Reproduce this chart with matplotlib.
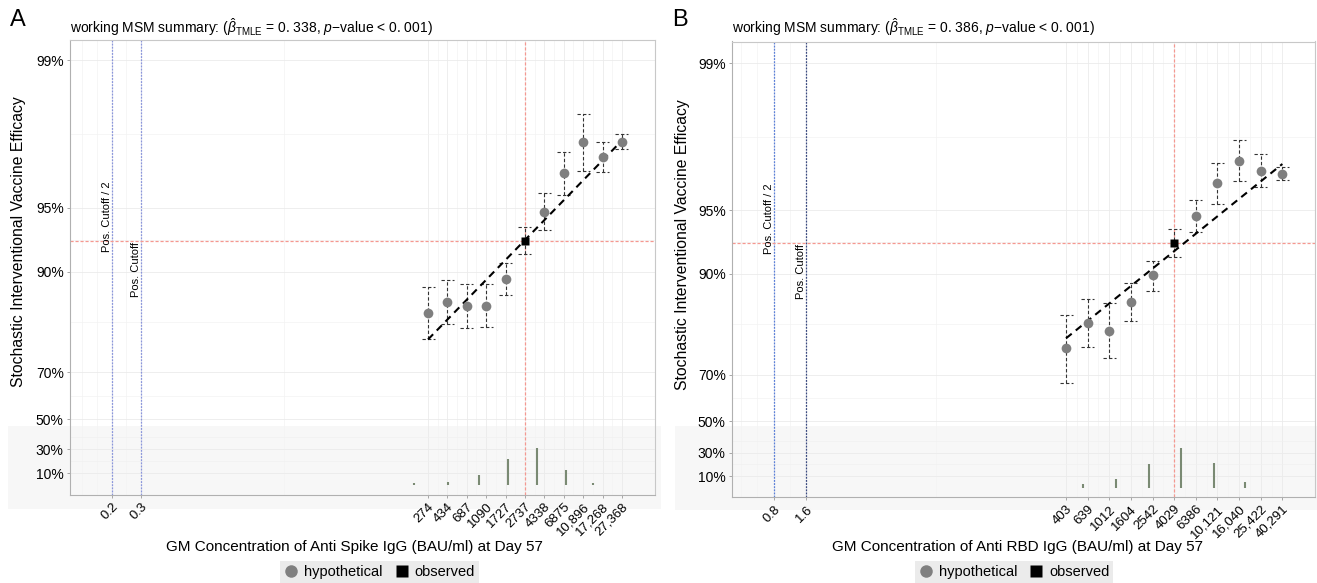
import numpy as np
import matplotlib
matplotlib.use('Agg')
import matplotlib.pyplot as plt
from matplotlib.lines import Line2D
from matplotlib.patches import Rectangle
import matplotlib.transforms as mtransforms

plt.rcParams['font.family'] = ['Liberation Sans', 'DejaVu Sans']
plt.rcParams['mathtext.fontset'] = 'custom'
plt.rcParams['mathtext.rm'] = 'Liberation Sans'
plt.rcParams['mathtext.it'] = 'Liberation Sans:italic'
plt.rcParams['mathtext.bf'] = 'Liberation Sans:bold'

# ---------------- Panel A data (Anti Spike IgG) ----------------
a_conc = [274, 434, 687, 1090, 1727, 2737, 4338, 6875, 10896, 17268, 27368]
a_labels = ['274', '434', '687', '1090', '1727', '2737', '4338', '6875', '10,896', '17,268', '27,368']
a_ve = [0.843, 0.861, 0.855, 0.855, 0.892, 0.9285, 0.948, 0.9657, 0.9755, 0.9714, 0.9757]
a_lo = [0.791, 0.824, 0.815, 0.818, 0.871, 0.9173, 0.9363, 0.9565, 0.9665, 0.9663, 0.9736]
a_hi = [0.882, 0.890, 0.886, 0.885, 0.9086, 0.9386, 0.9576, 0.9728, 0.9821, 0.9757, 0.9776]
a_obs = 5
a_trend = [0.7906, 0.976]
a_cut = [0.15, 0.30]
a_cut_labels = ['0.2', '0.3']
a_hist_x = [0.38, 8.6, 15.9, 197, 441, 920, 1833, 3650, 7260, 13780]
a_hist_h = [0.003, 0.003, 0.003, 0.02, 0.025, 0.083, 0.217, 0.308, 0.125, 0.02]
a_title = r'working MSM summary: ($\hat{\beta}_{\mathrm{TMLE}}$ = 0. 338, $p$$-$value < 0. 001)'
a_xlabel = 'GM Concentration of Anti Spike IgG (BAU/ml) at Day 57'

# ---------------- Panel B data (Anti RBD IgG) ----------------
b_conc = [403, 639, 1012, 1604, 2542, 4029, 6386, 10121, 16040, 25422, 40291]
b_labels = ['403', '639', '1012', '1604', '2542', '4029', '6386', '10,121', '16,040', '25,422', '40,291']
b_ve = [0.775, 0.8287, 0.8143, 0.8642, 0.8986, 0.9289, 0.947, 0.9628, 0.9710, 0.9676, 0.9664]
b_lo = [0.6724, 0.7775, 0.7506, 0.8329, 0.8792, 0.9172, 0.9369, 0.9534, 0.9638, 0.9614, 0.9641]
b_hi = [0.8436, 0.8687, 0.8623, 0.8893, 0.9135, 0.9388, 0.9553, 0.9701, 0.9768, 0.9729, 0.9690]
b_obs = 5
b_trend = [0.7983, 0.9699]
b_cut = [0.8, 1.6]
b_cut_labels = ['0.8', '1.6']
b_hist_x = [3.0, 7.5, 20.9, 141, 281, 582, 1167, 2344, 4690, 9350, 18200, 28100]
b_hist_h = [0.003, 0.003, 0.003, 0.003, 0.003, 0.03, 0.076, 0.203, 0.339, 0.212, 0.053, 0.003]
b_title = r'working MSM summary: ($\hat{\beta}_{\mathrm{TMLE}}$ = 0. 386, $p$$-$value < 0. 001)'
b_xlabel = 'GM Concentration of Anti RBD IgG (BAU/ml) at Day 57'

ve_ticks = [0.99, 0.95, 0.90, 0.70, 0.50]
ve_tick_labels = ['99%', '95%', '90%', '70%', '50%']
hist_ticks = [0.30, 0.10]
hist_tick_labels = ['30%', '10%']

W, H = 1317, 583
fig = plt.figure(figsize=(W / 100, H / 100), dpi=100)
fig.patch.set_facecolor('white')

RED = '#f59890'


def T(v):
    return -np.log10(1 - np.asarray(v, dtype=float))


def px_axes(l, t, r, b):
    return fig.add_axes([l / W, (H - b) / H, (r - l) / W, (b - t) / H])


def panel(box, xlim, ylim, conc, labels, ve, lo, hi, obs, trend, cut, cut_labels,
          cut_colors, hx, hh, title, letter, shade_px, hist_base, hist_scale):
    ax = px_axes(*box)
    ax.set_facecolor('none')
    ax.set_xscale('log')
    ax.set_xlim(*xlim)
    ax.set_ylim(*ylim)

    # shaded histogram band (figure-level)
    sx0, sy0, sx1, sy1 = shade_px
    fig.patches.append(Rectangle((sx0 / W, (H - sy1) / H), (sx1 - sx0) / W, (sy1 - sy0) / H,
                                 transform=fig.transFigure, facecolor='#f7f7f7',
                                 edgecolor='none', zorder=-5))

    # grid
    conc_log = np.log10(conc)
    cut_log = np.log10(cut)
    gmaj = list(conc_log) + list(cut_log)
    gmin = list((conc_log[:-1] + conc_log[1:]) / 2)
    dc = cut_log[1] - cut_log[0]
    gmin += [(cut_log[0] + cut_log[1]) / 2, (cut_log[1] + conc_log[0]) / 2,
             cut_log[0] - dc / 2, cut_log[0] - dc]
    for g in gmaj:
        ax.axvline(10 ** g, color='#ebebeb', lw=0.6, zorder=0)
    for g in gmin:
        ax.axvline(10 ** g, color='#f3f3f3', lw=0.5, zorder=0)
    yt = T(ve_ticks)
    for i, y in enumerate(yt):
        ax.axhline(y, color='#ebebeb', lw=0.6, zorder=0)
        if i + 1 < len(yt):
            ax.axhline((y + yt[i + 1]) / 2, color='#f3f3f3', lw=0.5, zorder=0)
    for h in hist_ticks:
        ax.axhline(hist_base + h * hist_scale, color='#ebebeb', lw=0.6, zorder=0)
        ax.axhline(hist_base + (h + 0.1) * hist_scale, color='#f0f0f0', lw=0.5, zorder=0)

    # cutoff lines
    for c, col in zip(cut, cut_colors):
        ax.axvline(c, color=col, lw=0.9, ls=(0, (1.5, 1)), zorder=1)
    blend = mtransforms.blended_transform_factory(ax.transData, ax.transAxes)
    ax.text(cut[0], 0.534, 'Pos. Cutoff / 2', rotation=90, ha='right', va='bottom',
            fontsize=8, transform=blend)
    ax.text(cut[1], 0.435, 'Pos. Cutoff', rotation=90, ha='right', va='bottom',
            fontsize=8, transform=blend)

    # observed reference lines
    ax.axhline(T(ve[obs]), color=RED, lw=0.9, ls=(0, (2.5, 1.5)), zorder=1, snap=True)
    ax.axvline(conc[obs], color=RED, lw=0.9, ls=(0, (2.5, 1.5)), zorder=1, snap=True)

    # histogram
    ax.vlines(hx, hist_base, hist_base + np.asarray(hh) * hist_scale,
              color='#7a8a73', lw=1.5, zorder=2)

    # error bars
    lx0, lx1 = np.log10(xlim)
    pxdec = (box[2] - box[0]) / (lx1 - lx0)
    hw = 10 ** (6.5 / pxdec)
    ylo, yhi = T(lo), T(hi)
    ax.vlines(conc, ylo, yhi, color='#333333', lw=0.8, ls=(0, (3, 2)), zorder=3)
    cx = np.asarray(conc, dtype=float)
    ax.hlines(ylo, cx / hw, cx * hw, color='#333333', lw=0.8, ls=(0, (3, 2)), zorder=3)
    ax.hlines(yhi, cx / hw, cx * hw, color='#333333', lw=0.8, ls=(0, (3, 2)), zorder=3)

    # trend line
    ax.plot([conc[0], conc[-1]], T(trend), color='black', lw=1.5, ls=(0, (3.5, 2.5)), zorder=4)

    # points
    hyp = [i for i in range(len(conc)) if i != obs]
    ax.plot(np.asarray(conc)[hyp], T(np.asarray(ve)[hyp]), 'o', color='#7f7f7f',
            ms=7, mec='none', zorder=5)
    ax.plot([conc[obs]], [T(ve[obs])], 's', color='black', ms=6, mec='none', zorder=6)

    # ticks
    xt = list(cut) + list(conc)
    ax.set_xticks(xt)
    ax.set_xticklabels(list(cut_labels) + list(labels), rotation=45, ha='right',
                       rotation_mode='anchor', fontsize=9.5)
    ax.xaxis.set_minor_locator(matplotlib.ticker.NullLocator())
    yticks = list(yt) + [hist_base + h * hist_scale for h in hist_ticks]
    ax.set_yticks(yticks)
    ax.set_yticklabels(ve_tick_labels + hist_tick_labels, fontsize=10)
    ax.tick_params(axis='both', length=2.5, width=0.6, color='#999999', pad=2)
    for s in ax.spines.values():
        s.set_color('#c8c8c8')
        s.set_linewidth(0.8)
    ax.spines['left'].set_color('#b0b0b0')
    ax.spines['bottom'].set_color('#b0b0b0')

    fig.text(box[0] / W, 1 - 27 / H, title, fontsize=10, va='center', ha='left')
    fig.text((box[0] - 60) / W, 1 - 20 / H, letter, fontsize=17, va='center', ha='left')
    return ax


panel((70, 40, 655, 494.7), (0.0558, 59950), (-0.055, 2.095), a_conc, a_labels,
      a_ve, a_lo, a_hi, a_obs, a_trend, a_cut, a_cut_labels, ['#8a96dc', '#8a96dc'],
      a_hist_x, a_hist_h, a_title, 'A', (8, 425.5, 661, 509), -0.0095, 0.567)
panel((732, 41.5, 1315, 497), (0.329, 80700), (-0.057, 2.102), b_conc, b_labels,
      b_ve, b_lo, b_hi, b_obs, b_trend, b_cut, b_cut_labels, ['#5a7fd8', '#3a4a80'],
      b_hist_x, b_hist_h, b_title, 'B', (675, 425.5, 1317, 510), -0.014, 0.559)

# axis titles
fig.text(354 / W, 1 - 547 / H, a_xlabel, fontsize=11, ha='center', va='center')
fig.text(1018 / W, 1 - 547 / H, b_xlabel, fontsize=11, ha='center', va='center')
fig.text(19 / W, 1 - 242 / H, 'Stochastic Interventional Vaccine Efficacy', fontsize=11.3,
         rotation=90, ha='center', va='center')
fig.text(683 / W, 1 - 245 / H, 'Stochastic Interventional Vaccine Efficacy', fontsize=11.3,
         rotation=90, ha='center', va='center')

# legends
handles = [Line2D([], [], ls='none', marker='o', color='#7f7f7f', ms=9, mec='none'),
           Line2D([], [], ls='none', marker='s', color='black', ms=8, mec='none')]
for cx in (379.5 / W, 1014 / W):
    fig.legend(handles, ['hypothetical', 'observed'], loc='center', ncol=2,
               bbox_to_anchor=(cx, 1 - 572 / H), frameon=True, facecolor='#ebebeb',
               edgecolor='none', fancybox=False, fontsize=10.5, handlelength=1.0,
               handletextpad=0.4, columnspacing=0.8, borderpad=0.25, framealpha=1)

fig.savefig('out.png', dpi=100)
